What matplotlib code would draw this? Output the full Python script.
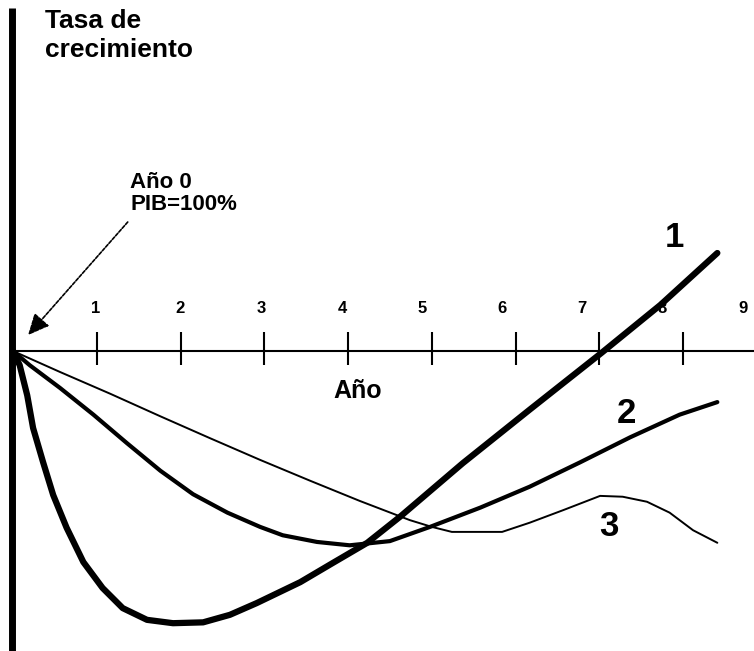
import matplotlib
matplotlib.use("Agg")
import matplotlib.pyplot as plt

# ---- data (years, growth rate in arbitrary units) ----
years_1 = [0.00, 0.08, 0.17, 0.24, 0.36, 0.48, 0.64, 0.84, 1.07, 1.31, 1.60, 1.91,
           2.27, 2.59, 2.91, 3.43, 3.82, 4.23, 4.62, 5.37, 6.17, 7.03, 7.73, 8.41]
growth_1 = [0.00, -0.17, -0.53, -0.92, -1.33, -1.72, -2.11, -2.52, -2.83, -3.07, -3.21, -3.25,
            -3.24, -3.15, -3.01, -2.76, -2.53, -2.29, -1.98, -1.34, -0.70, -0.02, 0.55, 1.17]

years_2 = [0.00, 0.20, 0.56, 0.96, 1.36, 1.76, 2.15, 2.56, 2.95, 3.22, 3.63, 4.02,
           4.50, 4.98, 5.58, 6.17, 6.77, 7.37, 7.96, 8.41]
growth_2 = [0.00, -0.17, -0.44, -0.76, -1.10, -1.43, -1.71, -1.93, -2.10, -2.20, -2.28, -2.32,
            -2.27, -2.10, -1.87, -1.62, -1.33, -1.03, -0.76, -0.61]

years_3 = [0.00, 0.56, 1.16, 1.76, 2.35, 2.95, 3.55, 4.14, 4.74, 5.00, 5.24, 5.84, 6.17,
           6.57, 7.01, 7.28, 7.57, 7.84, 8.12, 8.41]
growth_3 = [0.00, -0.25, -0.51, -0.78, -1.04, -1.30, -1.55, -1.79, -2.02, -2.10, -2.16, -2.16,
            -2.05, -1.90, -1.73, -1.74, -1.80, -1.93, -2.14, -2.29]

tick_years = [1, 2, 3, 4, 5, 6, 7, 8]
tick_labels = ["1", "2", "3", "4", "5", "6", "7", "8", "9"]
tick_label_x = [0.99, 1.99, 2.96, 3.93, 4.88, 5.84, 6.79, 7.75, 8.72]

series_labels = ["1", "2", "3"]
series_label_xy = [(7.90, 1.35), (7.32, -0.75), (7.12, -2.09)]

ylabel_text = "Tasa de\ncrecimiento"
xlabel_text = "Año"
note_text = "Año 0\nPIB=100%"

# ---- figure ----
plt.rcParams['font.family'] = ['Liberation Sans', 'DejaVu Sans']
fig = plt.figure(figsize=(7.54, 6.51), dpi=100)
ax = fig.add_axes([0, 0, 1, 1])
ax.set_xlim(-13 / 83.75, (754 - 13) / 83.75)
ax.set_ylim(-(651 - 351) / 83.75, 351 / 83.75)
ax.axis('off')

# axes lines
ax.plot([-0.006, -0.006], [-4.0, 4.10], color='black', lw=5.0, solid_capstyle='butt')
ax.plot([0.02, 9.0], [0, 0], color='black', lw=1.5)
ax.vlines(tick_years, -0.17, 0.23, color='black', lw=1.5)
for lx, lab in zip(tick_label_x, tick_labels):
    ax.text(lx, 0.51, lab, ha='center', va='center', fontsize=12, fontweight='bold')

# curves
ax.plot(years_3, growth_3, color='black', lw=1.4, solid_joinstyle='round', solid_capstyle='round')
ax.plot(years_2, growth_2, color='black', lw=3.0, solid_joinstyle='round', solid_capstyle='round')
ax.plot(years_1, growth_1, color='black', lw=4.5, solid_joinstyle='round', solid_capstyle='round')

for (sx, sy), lab in zip(series_label_xy, series_labels):
    ax.text(sx, sy, lab, ha='center', va='center', fontsize=25, fontweight='bold')

# texts
ax.text(0.38, 4.08, ylabel_text, ha='left', va='top', fontsize=19, fontweight='bold',
        linespacing=1.25)
ax.text(4.11, -0.48, xlabel_text, ha='center', va='center', fontsize=18, fontweight='bold')
ax.text(1.40, 2.14, note_text, ha='left', va='top', fontsize=16, fontweight='bold',
        linespacing=1.1)

# arrow
ax.annotate('', xy=(0.18, 0.19), xytext=(1.37, 1.54),
            arrowprops=dict(arrowstyle='-|>,head_length=1.3,head_width=0.6',
                            color='black', lw=1.2, linestyle=(0, (2, 1)),
                            shrinkA=0, shrinkB=0))

fig.savefig('out.png', dpi=100)
